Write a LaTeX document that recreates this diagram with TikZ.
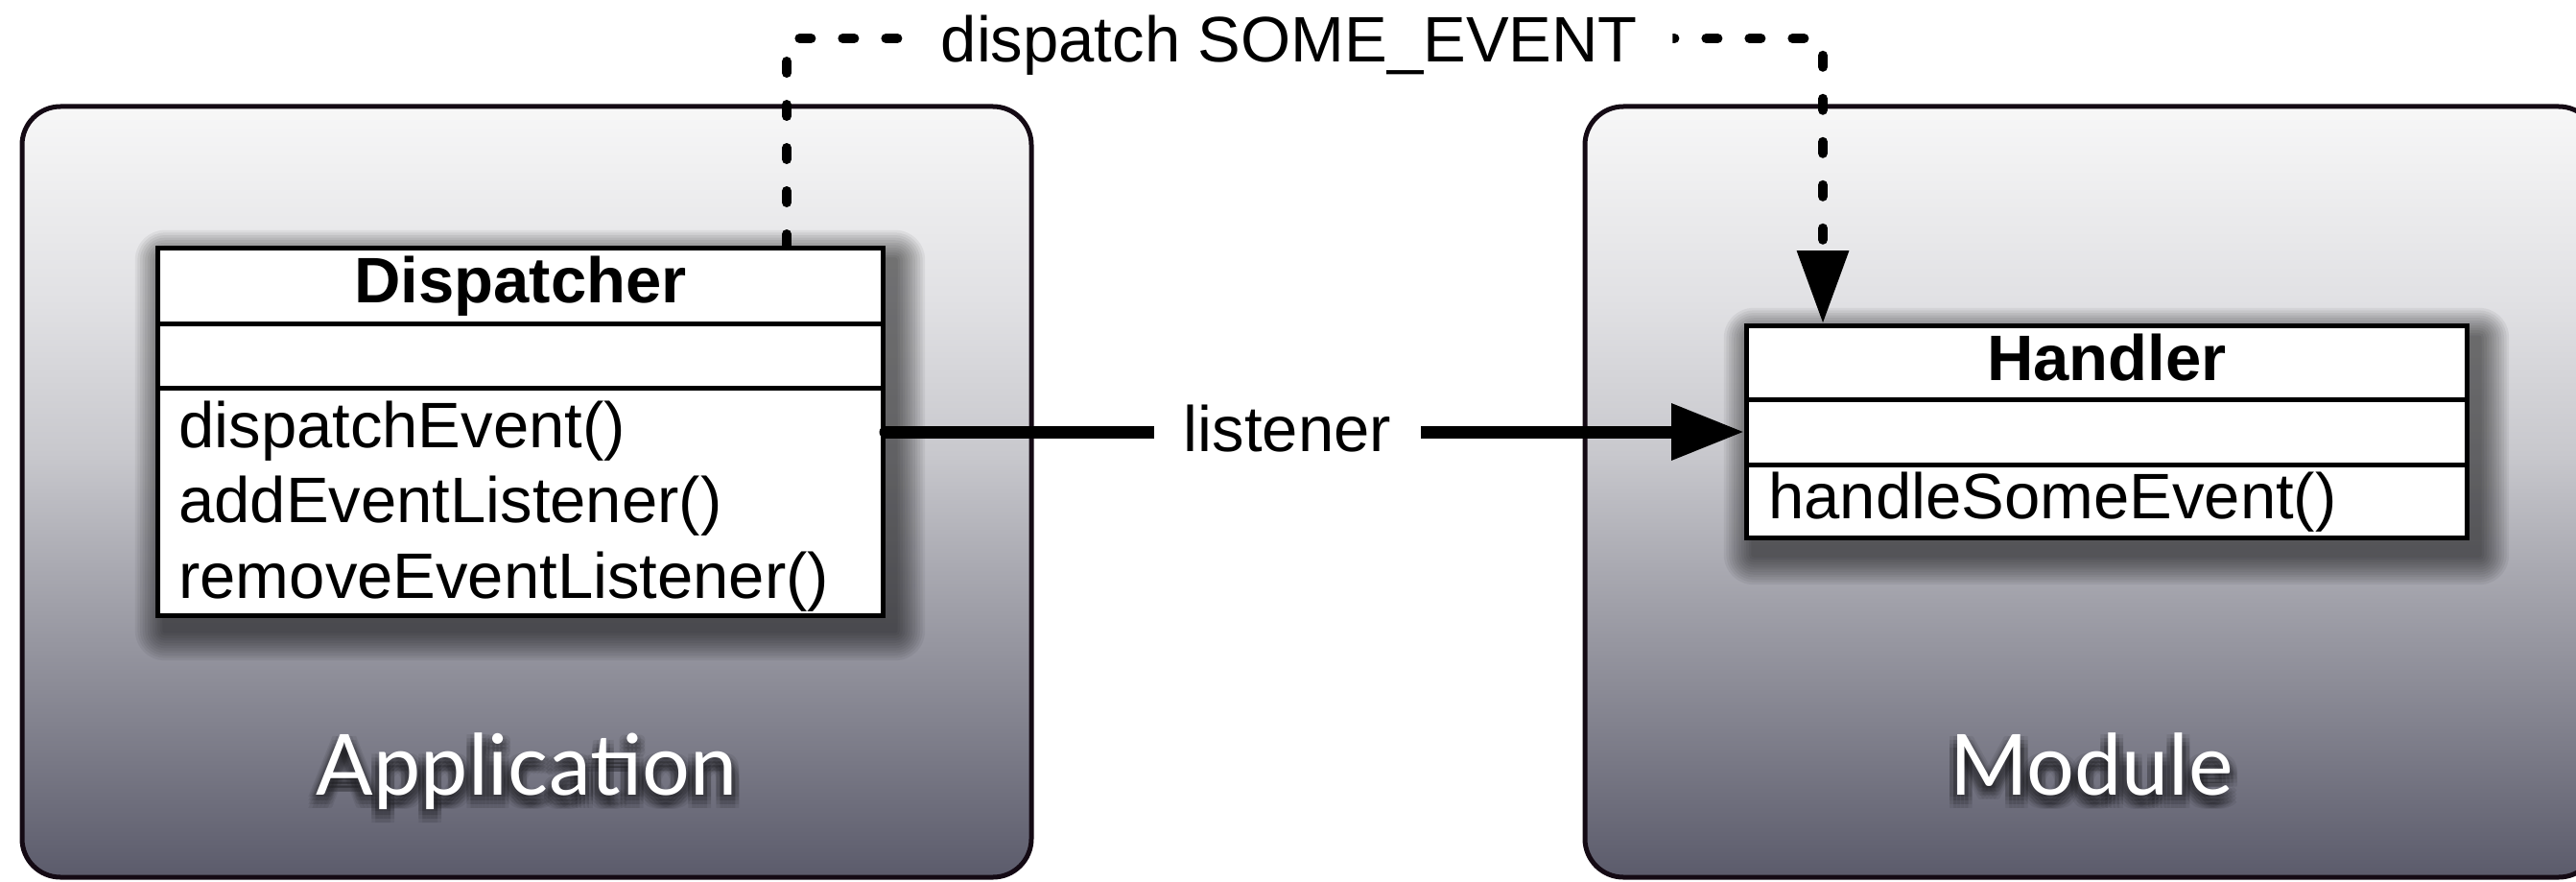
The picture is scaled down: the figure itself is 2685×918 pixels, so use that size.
\documentclass[tikz,border=0pt]{standalone}
\usepackage{fontspec}
\setmainfont{Liberation Sans}
\newfontfamily\panelfont{Lato}
\usetikzlibrary{arrows.meta}

% panel gradient, light at the top, slate at the bottom
\definecolor{pb0}{HTML}{5B5B6B}
\definecolor{pb1}{HTML}{82828E}
\definecolor{pb2}{HTML}{A9A9B1}
\definecolor{pb3}{HTML}{C8C8CD}
\definecolor{pb4}{HTML}{E1E1E4}
\definecolor{pb5}{HTML}{F7F7F7}
\definecolor{edge}{HTML}{140A14}

\pgfdeclareverticalshading{panelshade}{100bp}{%
  color(0bp)=(pb0); color(25bp)=(pb0); color(35bp)=(pb1); color(45bp)=(pb2);
  color(52.5bp)=(pb3); color(62.5bp)=(pb4); color(75bp)=(pb5); color(100bp)=(pb5)}

% soft drop shadow behind a box given by its outer corners (x1,y1) (x2,y2)
\newcommand\softshadow[4]{%
  \foreach \k in {1,...,12} {
    \fill[black, opacity=0.055, rounded corners={\k*1.3pt}]
      ({#1-\k*2.6+10},{#2-\k*2.6-15}) rectangle ({#3+\k*2.6+10},{#4+\k*2.6-15});
  }}

\tikzset{
  panel/.style={draw=edge, line width=2.5pt, rounded corners=20pt, shade,
    shading=panelshade, minimum height=401.5pt, inner sep=0pt},
  umlclass/.style={draw=black, line width=2.5pt, fill=white, inner sep=0pt},
  divider/.style={line width=2.5pt},
  classtitle/.style={font=\fontsize{33.5}{40}\selectfont\bfseries,
    anchor=base, inner sep=0pt},
  member/.style={anchor=base west, inner sep=0pt},
  paneltitle/.style={font=\panelfont\fontsize{44}{52}\selectfont,
    text=white, anchor=base, inner sep=0pt},
  titleshadow/.style={paneltitle, text=black, opacity=0.07},
  link/.style={line width=6.5pt, line cap=round,
    -{Triangle[length=38pt, width=28pt]}},
  eventlink/.style={line width=5pt, line cap=round,
    dash pattern=on 6pt off 16.5pt, rounded corners=5pt,
    -{Triangle[length=38pt, width=26pt]}},
  tag/.style={fill=white, inner ysep=0pt, anchor=base},
}

\begin{document}
\begin{tikzpicture}[x=0.5pt, y=0.5pt, font=\fontsize{33.5}{40}\selectfont]
\useasboundingbox (0,0) rectangle (2685,918);

% the two containers
\node[panel, minimum width=526pt] (app) at (549,405.5) {};
\node[panel, minimum width=527.5pt] (mod) at (2179.5,405.5) {};

% container titles with a soft dark halo
\foreach \dx in {-8,-4,0,4,8} {
  \foreach \dy in {2,6,10,14} {
    \node[titleshadow] (appshade\dx\dy) at ({549+\dx},{90-\dy}) {Application};
    \node[titleshadow] (modshade\dx\dy) at ({2180+\dx},{90-\dy}) {Module};
  }
}
\node[paneltitle] (applabel) at (549,90) {Application};
\node[paneltitle] (modlabel) at (2180,90) {Module};

% shadows under the class boxes
\softshadow{162}{276}{923}{662}
\softshadow{1818}{355}{2574}{581}

% Dispatcher class
\node[umlclass, minimum width=378pt, minimum height=191.5pt] (disp) at (542.5,468) {};
\coordinate (dsepa) at (0,581);
\coordinate (dsepb) at (0,514);
\draw[divider] (disp.west |- dsepa) -- (disp.east |- dsepa);
\draw[divider] (disp.west |- dsepb) -- (disp.east |- dsepb);
\node[classtitle] (disptitle) at (542.5,603) {Dispatcher};
\node[member] (dm1) at (186,452) {dispatchEvent()};
\node[member] (dm2) at (186,373.5) {addEventListener()};
\node[member] (dm3) at (186,295) {removeEventListener()};

% Handler class
\node[umlclass, minimum width=375.5pt, minimum height=110.5pt] (hand) at (2196,468) {};
\coordinate (hsepa) at (0,502);
\coordinate (hsepb) at (0,433.5);
\draw[divider] (hand.west |- hsepa) -- (hand.east |- hsepa);
\draw[divider] (hand.west |- hsepb) -- (hand.east |- hsepb);
\node[classtitle] (handtitle) at (2196,522) {Handler};
\node[member] (hm1) at (1843,378) {handleSomeEvent()};

% listener registration
\draw[link] (disp.east) -- node[tag, pos=0.468, yshift=-10pt, inner xsep=15.5pt] (lis) {listener} (hand.west);

% event dispatch
\coordinate (eva) at (820,878);
\coordinate (evb) at (1900,878);
\draw[eventlink] (disp.north -| eva) -- (eva)
  -- node[tag, pos=0.485, yshift=-12.5pt, inner xsep=18.25pt] (evlabel) {dispatch SOME\_EVENT} (evb)
  -- (hand.north -| evb);
\end{tikzpicture}
\end{document}
